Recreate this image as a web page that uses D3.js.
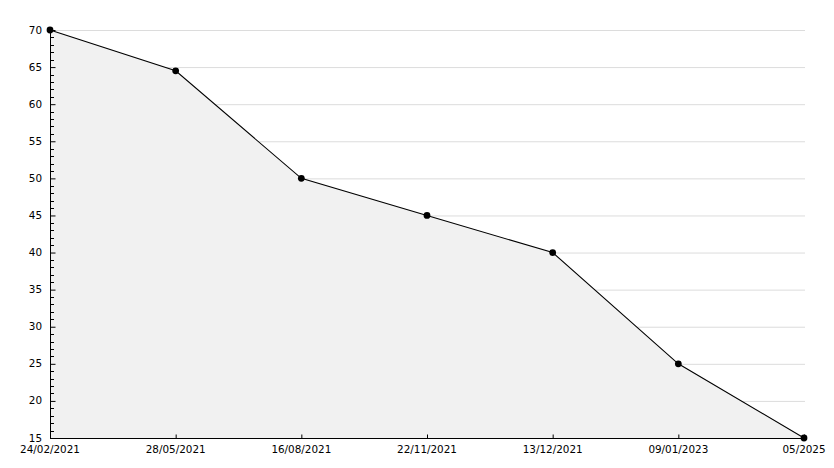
<!DOCTYPE html>
<html><head><meta charset="utf-8">
<script src="https://cdn.jsdelivr.net/npm/d3@7"></script>
<style>body{margin:0;background:#fff}svg{display:block}text{font-family:"DejaVu Sans",Verdana,sans-serif;font-size:10.4px;fill:#000}</style>
</head><body><svg id="c" width="834" height="468"></svg>
<script>
const categories = ["24/02/2021","28/05/2021","16/08/2021","22/11/2021","13/12/2021","09/01/2023","05/2025"];
const values = [70, 64.5, 50, 45, 40, 25, 15];
const yTicks = [15,20,25,30,35,40,45,50,55,60,65,70];

const svg = d3.select("#c");
const L = 50, R = 804, T = 30, B = 438;
const x = d3.scalePoint().domain(categories).range([L, R]);
const y = d3.scaleLinear().domain([15, 70]).range([B, T]);

// gridlines
svg.append("g").selectAll("line").data(yTicks.filter(d=>d>15)).join("line")
  .attr("x1", L).attr("x2", R+1).attr("y1", d=>y(d)+0.5).attr("y2", d=>y(d)+0.5)
  .attr("stroke", "#dcdcdc").attr("stroke-width", 1);

const data = categories.map((c,i)=>({c, v: values[i]}));
// area
svg.append("path").datum(data)
  .attr("d", d3.area().x(d=>x(d.c)).y0(y(15)).y1(d=>y(d.v)))
  .attr("fill", "#f1f1f1");
// line
svg.append("path").datum(data)
  .attr("d", d3.line().x(d=>x(d.c)).y(d=>y(d.v)))
  .attr("fill", "none").attr("stroke", "#000").attr("stroke-width", 1.1);

// y axis
const ya = svg.append("g").attr("transform", `translate(${L+0.5},0)`)
  .call(d3.axisRight(y).tickValues(yTicks).tickSize(5).tickFormat(""));
ya.select(".domain").remove();
ya.selectAll("line").attr("stroke","#000");
svg.append("line").attr("x1",L+0.5).attr("x2",L+0.5).attr("y1",T).attr("y2",B).attr("stroke","#000");
const minor = d3.range(16,70).filter(d=>d%5!==0);
svg.append("g").selectAll("line").data(minor).join("line")
  .attr("x1", L).attr("x2", L+4).attr("y1", d=>Math.round(y(d))+0.5).attr("y2", d=>Math.round(y(d))+0.5)
  .attr("stroke","#000");
svg.append("g").selectAll("text").data(yTicks).join("text")
  .attr("x", L-8).attr("y", d=>y(d)+3.5).attr("text-anchor","end").text(d=>d);

// x axis
svg.append("line").attr("x1",L).attr("x2",R).attr("y1",B+0.5).attr("y2",B+0.5).attr("stroke","#000");
const xa = svg.append("g").attr("transform", `translate(0,${B+0.5})`)
  .call(d3.axisTop(x).tickSize(4).tickFormat(""));
xa.select(".domain").remove();
xa.selectAll("line").attr("stroke","#000");
svg.append("g").selectAll("text").data(categories).join("text")
  .attr("x", d=>x(d)).attr("y", B+15).attr("text-anchor","middle").text(d=>d);

// markers
svg.append("g").selectAll("path").data(data).join("path")
  .attr("transform", d=>`translate(${x(d.c)},${y(d.v)})`)
  .attr("d", d3.symbol().type(d3.symbolCircle).size(36))
  .attr("fill","#000");
</script></body></html>
